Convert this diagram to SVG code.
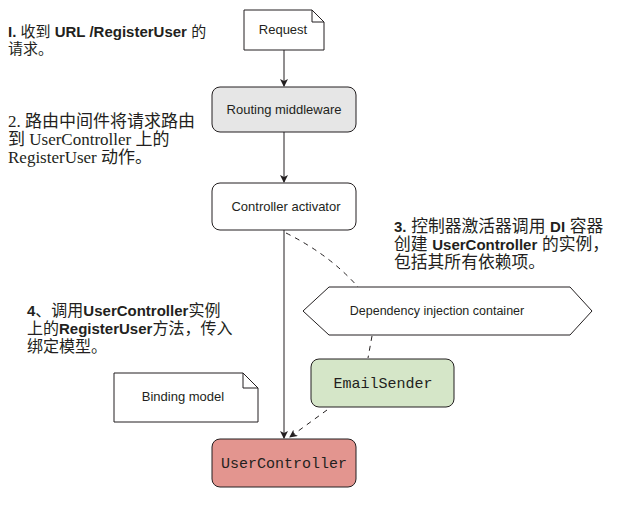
<svg xmlns="http://www.w3.org/2000/svg" width="623" height="512" viewBox="0 0 623 512">
<style>
.box{stroke:#231f20;stroke-width:1}
.lbl{font-family:"Liberation Sans",Arial,sans-serif;font-size:13px;fill:#231f20;text-anchor:middle}
.mono{font-family:"Liberation Mono","Courier New",monospace;font-size:15px;fill:#231f20;text-anchor:middle}
.ann{font-family:"Liberation Sans","Noto Sans CJK SC",sans-serif;font-size:15px;fill:#231f20}
.ann16{font-family:"Liberation Sans","Noto Sans CJK SC",sans-serif;font-size:16px;fill:#231f20}
.ann17{font-family:"Liberation Sans","Noto Sans CJK SC",sans-serif;font-size:16.8px;fill:#231f20}
.ser{font-family:"Liberation Serif","Noto Sans CJK SC",serif;font-size:17px;fill:#231f20}
.b{font-weight:bold}
.bs{font-weight:bold;font-size:15px}
.line{stroke:#231f20;stroke-width:1;fill:none}
.dash{stroke:#231f20;stroke-width:1;fill:none;stroke-dasharray:5 5}
</style>
<defs>
<marker id="ah" markerWidth="8" markerHeight="10" refX="7" refY="4" orient="auto" markerUnits="userSpaceOnUse">
<path d="M0,0 L8,4 L0,8 L2,4 Z" fill="#231f20"/>
</marker>
</defs>
<rect width="623" height="512" fill="#fff"/>

<g id="request">
<path class="box" d="M244,10 H312 L324,22 V50 H244 Z" fill="#fff"/>
<path class="box" d="M312,10 V22 H324" fill="none"/>
<text class="lbl" x="283" y="34">Request</text>
</g>
<g id="routing">
<rect class="box" x="212" y="87" width="144" height="45" rx="8" fill="#e6e6e6"/>
<text class="lbl" x="284" y="114">Routing middleware</text>
</g>
<g id="activator">
<rect class="box" x="212" y="183" width="144" height="47" rx="8" fill="#fff"/>
<text class="lbl" x="286" y="211">Controller activator</text>
</g>
<g id="di">
<path class="box" d="M303,311 L329,287 H570 L592,311 L570,335 H329 Z" fill="#fff"/>
<text class="lbl" x="437" y="315" style="font-size:12.5px">Dependency injection container</text>
</g>
<g id="emailsender">
<rect class="box" x="311" y="359" width="143" height="48" rx="8" fill="#d5e6c8"/>
<text class="mono" x="383" y="388">EmailSender</text>
</g>
<g id="binding">
<path class="box" d="M114,373 H243 L258,388 V422 H114 Z" fill="#fff"/>
<path class="box" d="M243,373 V388 H258" fill="none"/>
<text class="lbl" x="183" y="401">Binding model</text>
</g>
<g id="usercontroller">
<rect class="box" x="212" y="439" width="144" height="48" rx="8" fill="#e3958f"/>
<text class="mono" x="284" y="468">UserController</text>
</g>

<g id="connectors">
<path class="line" d="M284,50 V86" marker-end="url(#ah)"/>
<path class="line" d="M284,132 V182" marker-end="url(#ah)"/>
<path class="line" d="M284,230 V438" marker-end="url(#ah)"/>
<path class="dash" d="M286,233 Q330,255 358,287"/>
<path class="dash" d="M372,336 L368,358"/>
<path class="dash" d="M327,410 L290,437" marker-end="url(#ah)"/>
</g>

<g id="annotations">
<text class="ann" y="37"><tspan x="8" class="b">I.</tspan> 收到 <tspan class="b">URL /RegisterUser</tspan> 的</text>
<text class="ann" x="8" y="54">请求。</text>
<text class="ser" x="8" y="127">2. 路由中间件将请求路由</text>
<text class="ser" x="8" y="145">到 UserController 上的</text>
<text class="ser" x="8" y="163">RegisterUser 动作。</text>
<text class="ann17" y="232"><tspan x="394" class="bs">3.</tspan> 控制器激活器调用 <tspan class="bs">DI</tspan> 容器</text>
<text class="ann17" y="250"><tspan x="394">创建 </tspan><tspan class="bs">UserController</tspan> 的实例，</text>
<text class="ann17" x="394" y="268">包括其所有依赖项。</text>
<text class="ann16" y="316"><tspan x="27" class="bs">4</tspan>、调用<tspan class="bs">UserController</tspan>实例</text>
<text class="ann16" y="334"><tspan x="27">上的</tspan><tspan class="bs">RegisterUser</tspan>方法，传入</text>
<text class="ann16" x="27" y="352">绑定模型。</text>
</g>
</svg>
